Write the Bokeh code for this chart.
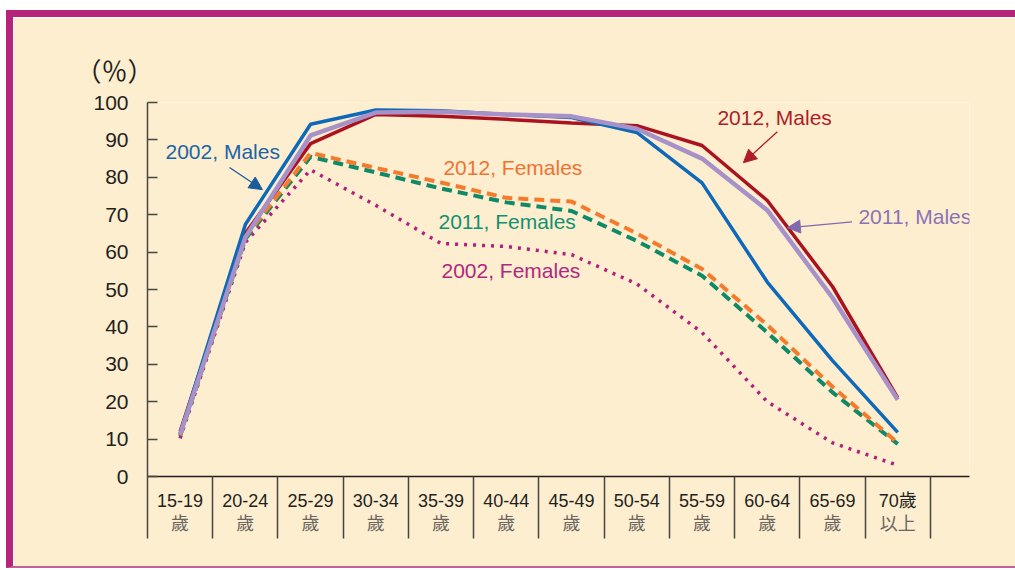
import numpy as np
from bokeh.plotting import figure
from bokeh.models import Range1d, LinearAxis, FixedTicker, Label, Arrow, NormalHead
from bokeh.embed import file_html
from bokeh.resources import INLINE

# ---------------- data ----------------
age_top = ["15-19", "20-24", "25-29", "30-34", "35-39", "40-44",
           "45-49", "50-54", "55-59", "60-64", "65-69", "70歲"]
age_bottom = ["歲", "歲", "歲", "歲", "歲", "歲",
              "歲", "歲", "歲", "歲", "歲", "以上"]

males_2012 = [12.0, 65.0, 89.0, 96.8, 96.3, 95.5, 94.5, 93.8, 88.5, 73.8, 50.8, 21.0]
males_2011 = [11.2, 64.0, 91.2, 97.3, 97.5, 96.8, 96.3, 93.0, 85.0, 71.2, 47.8, 20.5]
males_2002 = [11.5, 67.4, 94.2, 98.0, 97.8, 96.8, 96.0, 92.0, 78.5, 52.0, 31.0, 11.8]
females_2012 = [11.0, 64.0, 86.5, 82.5, 78.6, 74.5, 73.5, 65.0, 55.5, 40.5, 24.0, 9.0]
females_2011 = [10.8, 63.5, 85.5, 81.3, 77.0, 73.3, 71.0, 63.0, 53.7, 38.5, 22.5, 8.7]
females_2002 = [10.2, 62.6, 82.0, 72.5, 62.3, 61.5, 59.3, 51.5, 38.5, 20.0, 9.0, 3.0]

y_ticks = [0, 10, 20, 30, 40, 50, 60, 70, 80, 90, 100]

# ---------------- style ----------------
CREAM = "#fdeed0"
MAGENTA_BORDER = "#b5247a"
DARK = "#231f20"
AXIS = "#4a4540"

n = len(age_top)
xs = np.arange(n) + 0.5
bounds = list(np.arange(n + 1).astype(float))

p = figure(width=1009, height=558,
           x_range=Range1d(0, n + 0.6), y_range=Range1d(0, 100),
           x_axis_type=None, y_axis_type=None,
           output_backend="svg", toolbar_location=None,
           background_fill_color=CREAM, border_fill_color=CREAM,
           outline_line_color=None,
           min_border_left=134, min_border_right=53,
           min_border_top=85, min_border_bottom=99)
p.styles = {"border-top": f"7px solid {MAGENTA_BORDER}",
            "border-left": f"7px solid {MAGENTA_BORDER}",
            "border-bottom": "2px solid #c55f95",
            "margin-left": "6px",
            "margin-top": "10px"}

p.title.text = "（％）"
p.title.text_font = "Noto Sans CJK TC"
p.title.text_font_size = "26px"
p.title.text_font_style = "normal"
p.title.text_color = DARK
p.title.align = "left"
p.title.offset = -72
p.title.standoff = 29

# y axis
yax = LinearAxis(ticker=FixedTicker(ticks=y_ticks, minor_ticks=[]))
yax.axis_line_color = AXIS
yax.axis_line_width = 1.5
yax.major_tick_line_color = AXIS
yax.major_tick_line_width = 1.5
yax.major_tick_in = 10
yax.major_tick_out = 0
yax.minor_tick_line_color = None
yax.major_label_standoff = 19
yax.major_label_text_font = "Liberation Sans"
yax.major_label_text_font_size = "21px"
yax.major_label_text_color = DARK
p.add_layout(yax, "left")

# x axis: first label line + separators as minor ticks
xax = LinearAxis(ticker=FixedTicker(ticks=list(xs), minor_ticks=bounds))
xax.axis_line_color = DARK
xax.axis_line_width = 1.5
xax.major_tick_line_color = None
xax.major_tick_in = 0
xax.major_tick_out = 0
xax.minor_tick_line_color = AXIS
xax.minor_tick_line_width = 1.5
xax.minor_tick_in = 0
xax.minor_tick_out = 62
xax.major_label_overrides = {float(x): t for x, t in zip(xs, age_top)}
xax.major_label_standoff = -48
xax.major_label_text_font = "Liberation Sans, Noto Sans CJK TC"
xax.major_label_text_font_size = "18px"
xax.major_label_text_color = DARK
p.add_layout(xax, "below")

# x axis: second label line
xax2 = LinearAxis(ticker=FixedTicker(ticks=list(xs), minor_ticks=[]))
xax2.axis_line_color = None
xax2.major_tick_line_color = None
xax2.minor_tick_line_color = None
xax2.major_tick_in = 0
xax2.major_tick_out = 0
xax2.major_label_overrides = {float(x): t for x, t in zip(xs, age_bottom)}
xax2.major_label_standoff = -5
xax2.major_label_text_font = "Noto Sans CJK TC"
xax2.major_label_text_font_size = "18px"
xax2.major_label_text_color = "#6b6560"
p.add_layout(xax2, "below")

# series
p.line(xs, females_2002, line_color="#b2207e", line_width=3.5, line_dash="3 6")
p.line(xs, females_2011, line_color="#0f8a68", line_width=4, line_dash="10 6")
p.line(xs, females_2012, line_color="#f47a2c", line_width=4, line_dash="10 6")
p.line(xs, males_2012, line_color="#ab1220", line_width=3.5)
p.line(xs, males_2002, line_color="#0e6ab8", line_width=3.5)
p.line(xs, males_2011, line_color="#a692c9", line_width=4.5)

# annotations (layout positions in data units)
labels = [
    ("2002, Males", 0.276, 86.9, "#1b64a5"),
    ("2012, Males", 8.736, 96.0, "#b01c27"),
    ("2011, Males", 10.897, 69.4, "#8a74b5"),
    ("2012, Females", 4.536, 82.6, "#f0732f"),
    ("2011, Females", 4.460, 68.1, "#129170"),
    ("2002, Females", 4.506, 55.2, "#b2277e"),
]
for t, lx, ly, c in labels:
    p.add_layout(Label(x=lx, y=ly, text=t, text_color=c, text_font="Liberation Sans",
                       text_font_size="21px", text_baseline="middle", text_align="left"))

arrows = [
    (1.257, 82.6, 1.762, 76.7, "#1b5d9c"),
    (9.655, 92.2, 9.134, 83.9, "#b01c27"),
    (10.80, 68.1, 9.808, 66.5, "#8169b0"),
]
for x0, y0, x1, y1, c in arrows:
    p.add_layout(Arrow(x_start=x0, y_start=y0, x_end=x1, y_end=y1,
                       line_color=c, line_width=1.3,
                       end=NormalHead(size=13, fill_color=c, line_color=c)))

open("out.html", "w").write(file_html(p, INLINE))
